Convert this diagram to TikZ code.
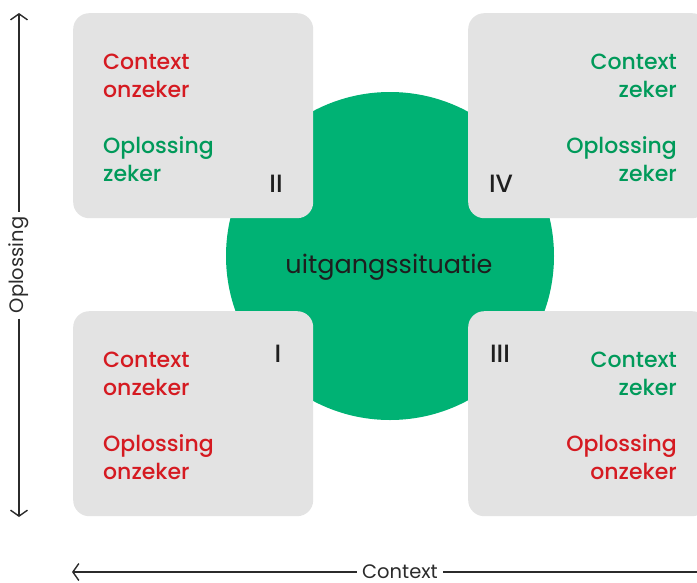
\documentclass[tikz,border=0pt]{standalone}
\usepackage{fontspec}
\setmainfont{Poppins}[BoldFont={Poppins Medium}]
\usetikzlibrary{arrows.meta}
\definecolor{boxgray}{HTML}{E3E3E3}
\definecolor{discgreen}{HTML}{00B274}
\definecolor{txtgreen}{HTML}{009A5A}
\definecolor{txtred}{HTML}{D51A21}
\definecolor{ink}{HTML}{1E1E1E}
\definecolor{axisink}{HTML}{2B2B2B}
\tikzset{
  quad/.style={fill=boxgray, rounded corners=16pt, minimum width=240pt,
    minimum height=205pt, inner sep=0pt, anchor=north west},
  lbl/.style={inner sep=0pt, font=\fontsize{22}{28}\selectfont\bfseries},
  lblL/.style={lbl, anchor=base west},
  lblR/.style={lbl, anchor=base east},
  numeral/.style={inner sep=0pt, text=ink, font=\fontsize{25}{30}\selectfont\bfseries, anchor=base},
  axislbl/.style={inner xsep=5pt, inner ysep=0pt, text=axisink, font=\fontsize{19.5}{22}\selectfont},
  axisline/.style={draw=axisink, line width=1.4pt,
    -{Straight Barb[length=6pt, width=17pt, line width=1.4pt]}}
}
\begin{document}
\begin{tikzpicture}[x=1pt, y=-1pt]
\useasboundingbox (0,0) rectangle (697,582);
\clip (0,0) rectangle (697,582);

% central disc
\node[circle, fill=discgreen, minimum size=328pt, inner sep=0pt] (disc) at (390,256) {};
\node[text=ink, font=\fontsize{25.5}{30}\selectfont, anchor=base] (start) at (389,273) {uitgangssituatie};

% four quadrants
\node[quad] (q2) at (73,13) {};
\node[quad] (q4) at (468,13) {};
\node[quad] (q1) at (73,311) {};
\node[quad] (q3) at (468,311) {};

% quadrant II
\node[lblL, text=txtred]   (q2a) at (103,69)  {Context};
\node[lblL, text=txtred]   (q2b) at (103,97)  {onzeker};
\node[lblL, text=txtgreen] (q2c) at (103,153) {Oplossing};
\node[lblL, text=txtgreen] (q2d) at (103,181) {zeker};
\node[numeral] (n2) at (276,192) {II};

% quadrant IV
\node[lblR, text=txtgreen] (q4a) at (677,69)  {Context};
\node[lblR, text=txtgreen] (q4b) at (677,97)  {zeker};
\node[lblR, text=txtgreen] (q4c) at (677,153) {Oplossing};
\node[lblR, text=txtgreen] (q4d) at (677,181) {zeker};
\node[numeral] (n4) at (501,192) {IV};

% quadrant I
\node[lblL, text=txtred] (q1a) at (103,367) {Context};
\node[lblL, text=txtred] (q1b) at (103,395) {onzeker};
\node[lblL, text=txtred] (q1c) at (103,451) {Oplossing};
\node[lblL, text=txtred] (q1d) at (103,479) {onzeker};
\node[numeral] (n1) at (278,362) {I};

% quadrant III
\node[lblR, text=txtgreen] (q3a) at (677,367) {Context};
\node[lblR, text=txtgreen] (q3b) at (677,395) {zeker};
\node[lblR, text=txtred]   (q3c) at (677,451) {Oplossing};
\node[lblR, text=txtred]   (q3d) at (677,479) {onzeker};
\node[numeral] (n3) at (500,362) {III};

% vertical axis
\coordinate (ytop) at (19,13);
\coordinate (ybot) at (19,517);
\node[axislbl, rotate=90] (yl) at (19,265) {Oplossing};
\draw[axisline] (yl.east) -- (ytop);
\draw[axisline] (yl.west) -- (ybot);

% horizontal axis
\coordinate (xleft) at (72,572);
\coordinate (xright) at (709,572);
\node[axislbl] (xl) at (400,572) {Context};
\draw[axisline] (xl.west) -- (xleft);
\draw[axisline] (xl.east) -- (xright);
\end{tikzpicture}
\end{document}
